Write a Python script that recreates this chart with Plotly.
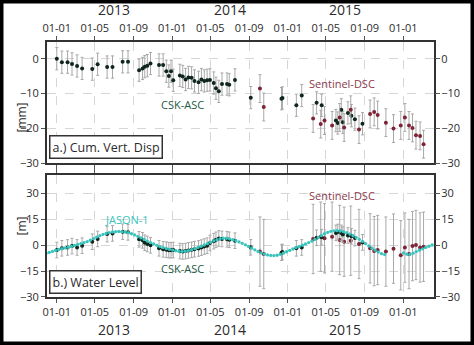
import pandas as pd
import plotly.graph_objects as go

# ---- CSK-ASC acquisitions: cumulative vertical displacement [mm] and water level [m]
csk_dates = [
    "2013-01-01", "2013-01-17", "2013-02-04", "2013-02-18", "2013-03-06", "2013-03-22",
    "2013-04-23", "2013-05-10", "2013-06-09", "2013-06-26", "2013-07-28", "2013-08-14",
    "2013-09-18", "2013-09-29", "2013-10-06", "2013-10-14", "2013-10-24", "2013-11-20",
    "2013-12-03", "2013-12-13", "2013-12-21", "2013-12-28", "2014-01-04", "2014-01-25",
    "2014-02-03", "2014-02-12", "2014-02-21", "2014-03-03", "2014-03-12", "2014-03-25",
    "2014-04-03", "2014-04-12", "2014-04-21", "2014-04-30", "2014-05-12", "2014-05-19",
    "2014-05-28", "2014-06-07", "2014-06-23", "2014-06-30", "2014-07-18", "2014-09-06",
    "2014-12-12", "2014-12-15", "2015-01-28", "2015-02-14", "2015-04-02", "2015-04-18",
    "2015-06-02", "2015-06-08", "2015-06-19", "2015-06-24", "2015-07-10", "2015-07-21",
    "2015-08-01", "2015-08-25",
]
csk_disp = [
    0.0, -1.0, -1.0, -1.5, -2.1, -2.8, -3.0, -1.6, -2.4, -2.4, -0.9, -0.9,
    -3.3, -2.8, -2.3, -2.0, -1.4, -1.8, -1.8, -3.6, -5.0, -3.6, -6.2, -4.8,
    -5.1, -6.0, -5.4, -5.5, -6.4, -6.8, -6.0, -6.4, -6.2, -6.1, -7.0, -8.5,
    -9.4, -7.3, -7.3, -7.5, -6.1, -11.2, -11.5, -11.3, -13.4, -10.6, -12.7, -13.4,
    -17.8, -18.5, -14.7, -18.3, -15.6, -16.4, -17.4, -18.7,
]
csk_level = [
    -2.9, -1.9, -1.4, -0.6, -1.4, -0.4, 1.9, 3.5, 6.3, 6.7, 7.7, 7.3,
    3.3, 2.7, 1.3, 0.6, -0.2, -1.9, -2.5, -2.7, -3.0, -3.0, -2.9, -3.5,
    -3.7, -3.5, -3.1, -2.8, -2.4, -2.0, -1.5, -0.9, -0.4, 1.2, 2.2, 3.0,
    3.8, 3.5, 3.3, 3.0, 2.5, -1.3, -4.4, -4.0, -1.9, -1.4, 4.2, 4.5,
    7.0, 7.5, 7.0, 6.0, 5.5, 5.0, 4.0, 1.5,
]

# ---- Sentinel-DSC acquisitions
s1_dates = [
    "2014-10-05", "2014-10-17", "2015-03-22", "2015-04-15", "2015-04-27", "2015-05-21",
    "2015-06-14", "2015-06-28", "2015-07-19", "2015-08-14", "2015-09-18", "2015-10-01",
    "2015-10-12", "2015-11-07", "2015-12-01", "2015-12-24", "2016-01-06", "2016-01-19",
    "2016-01-30", "2016-02-10", "2016-02-23", "2016-03-05",
]
s1_disp = [
    -8.6, -13.9, -17.2, -18.8, -17.8, -19.2, -16.9, -19.8, -14.7, -20.4, -15.9, -15.3,
    -16.2, -18.4, -20.1, -19.2, -16.9, -19.2, -19.9, -22.0, -22.2, -24.6,
]
s1_level = [
    -3.8, -5.2, 3.5, 4.8, 3.9, 4.8, 2.9, 1.9, 2.5, 0.6, -1.9, -3.5,
    -2.9, -3.8, -2.1, -5.9, -1.5, -5.2, -0.6, 0.0, -1.4, -1.0,
]

# ---- JASON-1 altimetry water level [m], 10-day track
jason_start = "2012-11-28"
jason_level = [
    -4.8, -4.3, -3.7, -3.1, -2.6, -2.1, -1.7, -1.3, -0.8, -0.2,
    0.3, 0.8, 1.4, 2.0, 2.8, 3.7, 4.6, 5.4, 6.1, 6.7,
    7.2, 7.5, 7.7, 7.8, 7.7, 7.5, 7.1, 6.5, 5.8, 5.0,
    4.1, 3.2, 2.3, 1.4, 0.6, -0.2, -0.9, -1.5, -2.0, -2.5,
    -2.9, -3.3, -3.6, -3.7, -3.6, -3.2, -2.7, -2.1, -1.4, -0.7,
    0.0, 0.8, 1.6, 2.4, 3.1, 3.6, 3.9, 3.9, 3.6, 3.1,
    2.5, 1.8, 1.0, 0.1, -0.8, -1.8, -2.8, -3.7, -4.5, -5.2,
    -5.7, -6.0, -6.1, -5.9, -5.4, -4.7, -3.9, -3.1, -2.3, -1.5,
    -0.8, -0.1, 0.6, 1.4, 2.3, 3.3, 4.4, 5.5, 6.5, 7.3,
    7.9, 8.2, 8.3, 8.1, 7.7, 7.1, 6.3, 5.4, 4.4, 3.3,
    2.1, 0.8, -0.5, -1.8, -3.0, -4.1, -5.0, -5.5, None, None,
    None, None, None, -4.5, -5.3, -5.5, -4.7, -3.8, -3.0, -2.2,
    -1.4, -0.7, 0.0,
]
jason_dates = pd.date_range(jason_start, periods=len(jason_level), freq="10D")

# ---- axis settings
x_range = ["2012-12-01", "2016-04-07"]
disp_ticks = [0, -10, -20, -30]
level_ticks = [30, 15, 0, -15, -30]
year_labels = ["2013", "2014", "2015"]
year_mid = ["2013-07-02", "2014-07-02", "2015-07-02"]

CSK_COL = "#0f261c"
S1_COL = "#7d2436"
JAS_COL = "#38c4bd"
BAR_COL = "#a8a8a8"
GRID_COL = "#d6d6d6"
TXT_COL = "#2b2b2b"
FONT = "Open Sans"

fig = go.Figure()


def err(v):
    return dict(type="constant", value=v, color=BAR_COL, thickness=1, width=1.5)


# panel a: displacement
fig.add_trace(go.Scatter(x=csk_dates, y=csk_disp, mode="markers", xaxis="x", yaxis="y",
                         marker=dict(color=CSK_COL, size=4), error_y=err(3.2), showlegend=False))
fig.add_trace(go.Scatter(x=s1_dates, y=s1_disp, mode="markers", xaxis="x", yaxis="y",
                         marker=dict(color=S1_COL, size=4), error_y=err(4.0), showlegend=False))

# panel b: water level
fig.add_trace(go.Scatter(x=s1_dates, y=s1_level, mode="markers", xaxis="x2", yaxis="y2",
                         marker=dict(color=S1_COL, size=4), error_y=err(20.0), showlegend=False))
fig.add_trace(go.Scatter(x=csk_dates, y=csk_level, mode="markers", xaxis="x2", yaxis="y2",
                         marker=dict(color=CSK_COL, size=4), error_y=err(4.5), showlegend=False))
fig.add_trace(go.Scatter(x=jason_dates, y=jason_level, mode="markers", xaxis="x2", yaxis="y2",
                         marker=dict(color=JAS_COL, size=3.3), showlegend=False))

# right-hand tick axes carry an empty trace so they render
fig.add_trace(go.Scatter(x=[None], y=[None], xaxis="x", yaxis="y3", showlegend=False, hoverinfo="skip"))
fig.add_trace(go.Scatter(x=[None], y=[None], xaxis="x2", yaxis="y4", showlegend=False, hoverinfo="skip"))

tickfont = dict(family=FONT, size=11, color=TXT_COL)
xcommon = dict(type="date", range=x_range, tick0="2013-01-01", dtick="M4", tickformat="%d-%m",
               showgrid=True, gridcolor=GRID_COL, griddash="dash", gridwidth=1,
               showline=True, linecolor="#333333", linewidth=2, mirror="ticks",
               ticks="outside", ticklen=4, tickcolor="#555555", tickfont=tickfont, zeroline=False)
ycommon = dict(showgrid=True, gridcolor=GRID_COL, griddash="dash", gridwidth=1,
               showline=True, linecolor="#333333", linewidth=2, mirror="ticks",
               ticks="outside", ticklen=4, tickcolor="#555555", tickfont=tickfont, zeroline=False)

top_dom = [0.5255, 1.0]
bot_dom = [0.0, 0.4784]

fig.update_layout(
    width=474, height=345,
    margin=dict(l=47, r=40, t=42, b=48),
    paper_bgcolor="white", plot_bgcolor="white",
    font=dict(family=FONT, color=TXT_COL),
    xaxis=dict(xcommon, domain=[0, 1], anchor="y", side="top"),
    xaxis2=dict(xcommon, domain=[0, 1], anchor="y2", side="bottom", matches="x"),
    yaxis=dict(ycommon, domain=top_dom, anchor="x", range=[-30, 4.8], tickvals=disp_ticks),
    yaxis2=dict(ycommon, domain=bot_dom, anchor="x2", range=[-30, 40.4], tickvals=level_ticks),
    yaxis3=dict(overlaying="y", side="right", anchor="x", range=[-30, 4.8], tickvals=disp_ticks,
                showgrid=False, zeroline=False, ticks="outside", ticklen=4, tickcolor="#555555",
                tickfont=tickfont),
    yaxis4=dict(overlaying="y2", side="right", anchor="x2", range=[-30, 40.4], tickvals=level_ticks,
                showgrid=False, zeroline=False, ticks="outside", ticklen=4, tickcolor="#555555",
                tickfont=tickfont),
)

ann = []
# year labels above the top panel and below the bottom panel
for yl, xm in zip(year_labels, year_mid):
    ann.append(dict(x=xm, y=1.1255, xref="x", yref="paper", yanchor="middle", text=yl,
                    showarrow=False, font=dict(family=FONT, size=14, color=TXT_COL)))
    ann.append(dict(x=xm, y=-0.129, xref="x2", yref="paper", yanchor="middle", text=yl,
                    showarrow=False, font=dict(family=FONT, size=14, color=TXT_COL)))

# axis titles
ann.append(dict(x=-0.092, y=0.77, xref="paper", yref="paper", text="[mm]", textangle=-90,
                showarrow=False, font=dict(family=FONT, size=12, color=TXT_COL)))
ann.append(dict(x=-0.092, y=0.235, xref="paper", yref="paper", text="[m]", textangle=-90,
                showarrow=False, font=dict(family=FONT, size=12, color=TXT_COL)))

# panel captions
ann.append(dict(x=0.005, y=0.54, xref="paper", yref="paper", xanchor="left", yanchor="bottom",
                text="a.) Cum. Vert. Disp", showarrow=False, bgcolor="white",
                bordercolor="#333333", borderwidth=1.5, borderpad=2,
                font=dict(family=FONT, size=12.5, color=TXT_COL)))
ann.append(dict(x=0.005, y=0.012, xref="paper", yref="paper", xanchor="left", yanchor="bottom",
                text="b.) Water Level", showarrow=False, bgcolor="white",
                bordercolor="#333333", borderwidth=1.5, borderpad=2,
                font=dict(family=FONT, size=12.5, color=TXT_COL)))

# series labels
ann.append(dict(x="2014-02-01", y=-13.2, xref="x", yref="y", text="CSK-ASC", showarrow=False,
                font=dict(family=FONT, size=11, color="#1d5a45")))
ann.append(dict(x="2015-06-20", y=-7.2, xref="x", yref="y", text="Sentinel-DSC", showarrow=False,
                font=dict(family=FONT, size=11, color="#8a3a4c")))
ann.append(dict(x="2014-02-01", y=-13.5, xref="x2", yref="y2", text="CSK-ASC", showarrow=False,
                font=dict(family=FONT, size=11, color="#1d5a45")))
ann.append(dict(x="2015-06-20", y=28.5, xref="x2", yref="y2", text="Sentinel-DSC", showarrow=False,
                font=dict(family=FONT, size=11, color="#8a3a4c")))
ann.append(dict(x="2013-08-10", y=14.5, xref="x2", yref="y2", text="JASON-1", showarrow=False,
                font=dict(family=FONT, size=11, color=JAS_COL)))
fig.update_layout(annotations=ann)

# black frame around the whole figure
W, H, L, R, T, B = 474, 345, 47, 40, 42, 48
pw, ph = W - L - R, H - T - B
inset = 1.75
fig.add_shape(type="rect", xref="paper", yref="paper", line=dict(color="black", width=3.5),
              x0=(inset - L) / pw, x1=(W - inset - L) / pw,
              y0=(inset - B) / ph, y1=(H - inset - B) / ph)

fig.write_html("out.html")
